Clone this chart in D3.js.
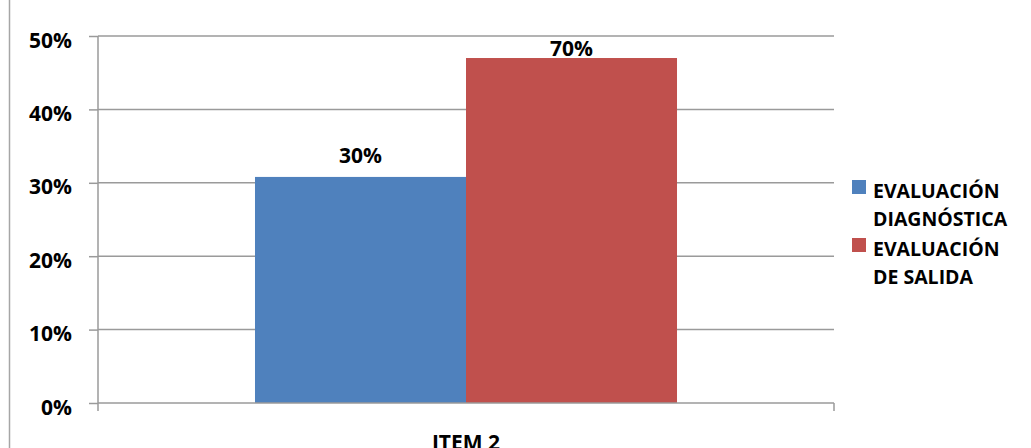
<!DOCTYPE html>
<html>
<head>
<meta charset="utf-8">
<script src="https://cdn.jsdelivr.net/npm/d3@7"></script>
<style>
  body { margin: 0; background: #fff; }
  svg { display: block; }
  text { font-family: "Open Sans", "Liberation Sans", sans-serif; font-weight: bold; fill: #000; }
</style>
</head>
<body>
<div id="chart"></div>
<script>
// chart data
const categories = ["ITEM 2"];
const seriesNames = ["EVALUACIÓN DIAGNÓSTICA", "EVALUACIÓN DE SALIDA"];
const seriesValues = [0.308, 0.470];      // bar heights as drawn
const seriesLabels = ["30%", "70%"];      // data labels as printed
const seriesColors = ["#4f81bd", "#c0504d"];
const yTicks = [0, 0.1, 0.2, 0.3, 0.4, 0.5];

const width = 1031, height = 448;
const plot = { left: 98, right: 834, top: 36, bottom: 403 };

const svg = d3.select("#chart").append("svg")
    .attr("width", width)
    .attr("height", height);

// outer left border of the frame
svg.append("line")
    .attr("x1", 9.5).attr("x2", 9.5)
    .attr("y1", 0).attr("y2", height)
    .style("stroke", "#a6a6a6")
    .style("stroke-width", 1.5);

const y = d3.scaleLinear().domain([0, 0.5]).range([plot.bottom, plot.top]);
const x = d3.scaleBand().domain(categories)
    .range([plot.left, plot.right])
    .paddingInner(0).paddingOuter(0.372);
const xs = d3.scaleBand().domain(seriesNames).range([0, x.bandwidth()]);

// gridlines
svg.selectAll(".grid")
    .data(yTicks.filter(d => d > 0))
    .enter().append("line")
    .attr("class", "grid")
    .attr("x1", plot.left).attr("x2", plot.right)
    .attr("y1", d => y(d)).attr("y2", d => y(d))
    .style("stroke", "#9a9a9a")
    .style("stroke-width", 1.5);

// y axis
const yAxis = svg.append("g")
    .attr("transform", `translate(${plot.left},0)`)
    .call(d3.axisLeft(y).tickValues(yTicks).tickFormat(d3.format(".0%")).tickSizeInner(9).tickSizeOuter(0));
yAxis.select(".domain").attr("d", `M0,${plot.top}V${plot.bottom + 8}`);
yAxis.selectAll("path, line").style("stroke", "#9a9a9a").style("stroke-width", 1.5);
yAxis.selectAll("text")
    .attr("x", -26)
    .attr("dy", "0.62em")
    .attr("transform", "translate(0,-2)")
    .style("font-size", "21px")
    .style("font-family", "'Open Sans', sans-serif")
    .style("font-weight", "bold")
    .style("fill", "#000");

// bars
const bars = svg.append("g");
bars.selectAll("rect")
    .data(seriesValues)
    .enter().append("rect")
    .attr("x", (d, i) => x(categories[0]) + xs(seriesNames[i]))
    .attr("width", xs.bandwidth())
    .attr("y", d => y(d))
    .attr("height", d => y(0) - y(d))
    .style("fill", (d, i) => seriesColors[i]);

// x axis
svg.append("line")
    .attr("x1", plot.left).attr("x2", plot.right)
    .attr("y1", plot.bottom).attr("y2", plot.bottom)
    .style("stroke", "#9a9a9a").style("stroke-width", 1.5);
svg.append("line")
    .attr("x1", plot.right).attr("x2", plot.right)
    .attr("y1", plot.bottom).attr("y2", plot.bottom + 8)
    .style("stroke", "#9a9a9a").style("stroke-width", 1.5);
svg.selectAll(".cat")
    .data(categories)
    .enter().append("text")
    .attr("class", "cat")
    .attr("x", d => x(d) + x.bandwidth() / 2)
    .attr("y", plot.bottom + 47)
    .attr("text-anchor", "middle")
    .style("font-size", "21px")
    .text(d => d);

// data labels (kept inside the plot area, as the original does)
svg.selectAll(".lbl")
    .data(seriesValues)
    .enter().append("text")
    .attr("class", "lbl")
    .attr("x", (d, i) => x(categories[0]) + xs(seriesNames[i]) + xs.bandwidth() / 2)
    .attr("y", d => Math.max(y(d) - 14, plot.top + 20))
    .attr("text-anchor", "middle")
    .style("font-size", "21px")
    .text((d, i) => seriesLabels[i]);

// legend
const legendLines = [["EVALUACIÓN", "DIAGNÓSTICA"], ["EVALUACIÓN", "DE SALIDA"]];
const legend = svg.append("g").attr("transform", "translate(852,180)");
const item = legend.selectAll("g")
    .data(seriesNames)
    .enter().append("g")
    .attr("transform", (d, i) => `translate(0,${i * 58})`);
item.append("rect")
    .attr("width", 14).attr("height", 14)
    .style("fill", (d, i) => seriesColors[i]);
item.append("text")
    .attr("x", 21)
    .attr("y", 18)
    .style("font-size", "19.5px")
    .selectAll("tspan")
    .data((d, i) => legendLines[i])
    .enter().append("tspan")
    .attr("x", 21)
    .attr("dy", (d, j) => j === 0 ? 0 : 28)
    .text(d => d);
</script>
</body>
</html>
